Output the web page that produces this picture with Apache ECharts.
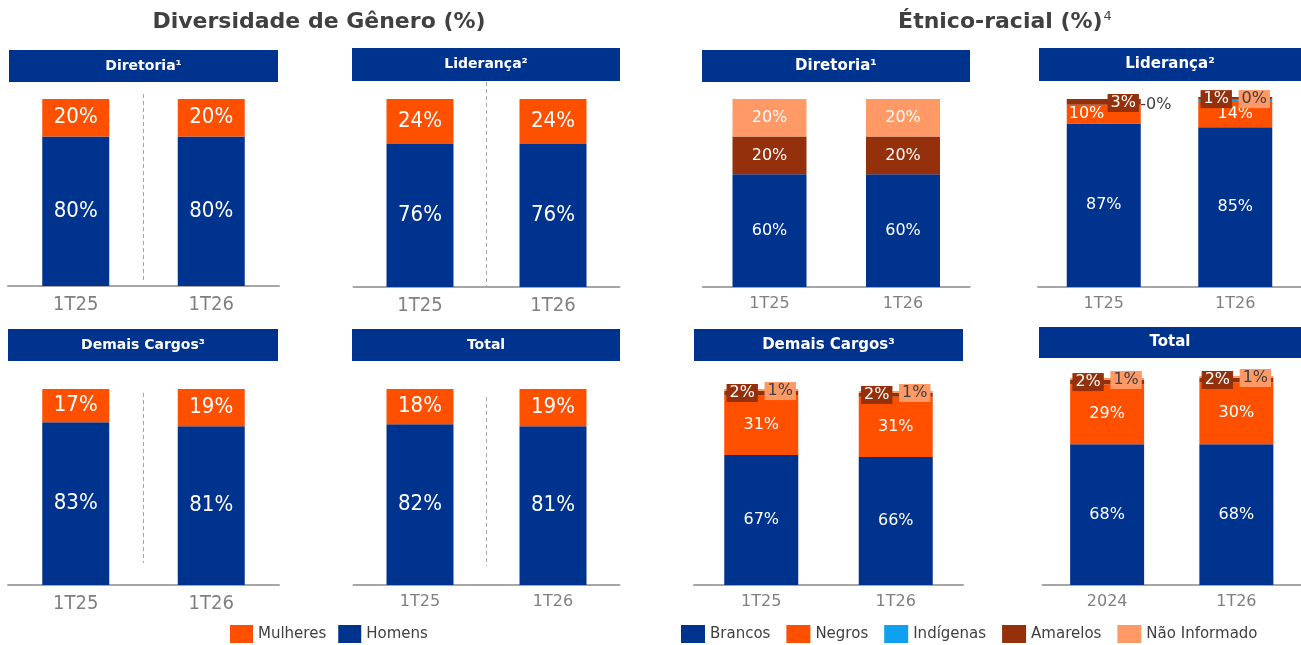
<!DOCTYPE html>
<html>
<head>
<meta charset="utf-8">
<script src="https://cdn.jsdelivr.net/npm/echarts@6/dist/echarts.min.js"></script>
<style>
  html, body { margin: 0; padding: 0; background: #fff; }
  #chart { width: 1301px; height: 645px; }
</style>
</head>
<body>
<div id="chart"></div>
<script>
// categorias
const periodos = ['1T25', '1T26']
const periodosTotal = ['2024', '1T26']

// Diversidade de Gênero (%)
const genDiretoriaHomens = [80, 80]
const genDiretoriaMulheres = [20, 20]
const genLiderancaHomens = [76, 76]
const genLiderancaMulheres = [24, 24]
const genDemaisHomens = [83, 81]
const genDemaisMulheres = [17, 19]
const genTotalHomens = [82, 81]
const genTotalMulheres = [18, 19]

// Étnico-racial (%)
const etnDiretoriaBrancos = [60, 60]
const etnDiretoriaNegros = [0, 0]
const etnDiretoriaIndigenas = [0, 0]
const etnDiretoriaAmarelos = [20, 20]
const etnDiretoriaNaoInf = [20, 20]

const etnLiderancaBrancos = [87, 85]
const etnLiderancaNegros = [10, 14]
const etnLiderancaIndigenas = [0, 1]
const etnLiderancaAmarelos = [3, 1]
const etnLiderancaNaoInf = [0, 0]

const etnDemaisBrancos = [67, 66]
const etnDemaisNegros = [31, 31]
const etnDemaisIndigenas = [0, 0]
const etnDemaisAmarelos = [2, 2]
const etnDemaisNaoInf = [1, 1]

const etnTotalBrancos = [68, 68]
const etnTotalNegros = [29, 30]
const etnTotalIndigenas = [0, 0]
const etnTotalAmarelos = [2, 2]
const etnTotalNaoInf = [1, 1]

const CORES = {
  navy: '#00338D',
  laranja: '#FF5000',
  azulClaro: '#0FA0F0',
  marrom: '#95300C',
  salmao: '#FF9966',
  texto: '#404040',
  eixo: '#A6A6A6',
  rotulo: '#7F7F7F'
}
const FONTE = "'DejaVu Sans', sans-serif"
const FONTE_COND = "'DejaVu Sans Condensed', 'Liberation Sans Narrow', 'DejaVu Sans', sans-serif"

// layout de cada painel (pixels)
const paineis = [
  { left: 8, width: 271, base: 286, h100: 187, cab: [9, 50, 269, 32], titulo: 'Diretoria¹', fs: 14, sep: [94, 282], cats: periodos, eixoFonte: 20, eixoCond: true },
  { left: 353.5, width: 266, base: 287, h100: 188, cab: [352, 48, 268, 33], titulo: 'Liderança²', fs: 14, sep: [82, 287], cats: periodos, eixoFonte: 20, eixoCond: true },
  { left: 8, width: 271, base: 585, h100: 196, cab: [8, 329, 270, 32], titulo: 'Demais Cargos³', fs: 14, sep: [393, 563], cats: periodos, eixoFonte: 20, eixoCond: true },
  { left: 353.5, width: 266, base: 585, h100: 196, cab: [352, 329, 268, 32], titulo: 'Total', fs: 14, sep: [397, 566], cats: periodos, eixoFonte: 16 },
  { left: 702.75, width: 267, base: 287, h100: 188, cab: [702, 50, 268, 32], titulo: 'Diretoria¹', fs: 15, cats: periodos, eixoFonte: 16 },
  { left: 1038, width: 269, base: 287, h100: 188, cab: [1039, 48, 262, 33], titulo: 'Liderança²', fs: 15, cats: periodos, eixoFonte: 16 },
  { left: 694, width: 269, base: 585, h100: 194, cab: [694, 329, 269, 32], titulo: 'Demais Cargos³', fs: 15, cats: periodos, eixoFonte: 16 },
  { left: 1042.5, width: 264, base: 585, h100: 207, cab: [1039, 327, 262, 31], titulo: 'Total', fs: 15, cats: periodosTotal, eixoFonte: 16 }
]

// ajustes manuais de rótulos pequenos (painel, série, índice)
const ajustesRotulo = {
  '5-Negros-0': { position: 'insideLeft', distance: 2 },
  '5-Amarelos-0': { offset: [19.5, 13] },
  '5-Não Informado-0': { formatter: '-0%', backgroundColor: 'transparent', offset: [52, 14], padding: 0 }
}

function serieGenero(grid, nome, valores, cor) {
  return {
    name: nome, type: 'bar', stack: 'p' + grid, xAxisIndex: grid, yAxisIndex: grid,
    barWidth: 67, clip: false, data: valores,
    itemStyle: { color: cor },
    label: { show: true, position: 'inside', formatter: '{c}%', color: '#fff', fontSize: 22, fontFamily: FONTE_COND }
  }
}

function rotuloEtnico(grid, nome, v, k) {
  if (nome === 'Indígenas') return { show: false }
  let r
  if (v >= 5) {
    r = { show: true }
  } else if (nome === 'Amarelos' || nome === 'Não Informado') {
    const amarelo = nome === 'Amarelos'
    r = {
      show: true, position: 'top', distance: 0,
      offset: [amarelo ? -19 : 19, 11],
      backgroundColor: amarelo ? CORES.marrom : CORES.salmao,
      color: amarelo ? '#fff' : CORES.texto,
      padding: [1, 3], lineHeight: 16, fontSize: 16
    }
  } else {
    r = { show: false }
  }
  const aj = ajustesRotulo[grid + '-' + nome + '-' + k]
  return aj ? Object.assign(r, aj) : r
}

function serieEtnica(grid, nome, valores, cor) {
  return {
    name: nome, type: 'bar', stack: 'p' + grid, xAxisIndex: grid, yAxisIndex: grid,
    barWidth: 74, clip: false,
    itemStyle: { color: cor },
    label: { position: 'inside', formatter: '{c}%', color: '#fff', fontSize: 16, fontFamily: FONTE },
    data: valores.map((v, k) => ({ value: v, label: rotuloEtnico(grid, nome, v, k) }))
  }
}

function seriesEtnicas(grid, b, n, i, a, ni) {
  return [
    serieEtnica(grid, 'Brancos', b, CORES.navy),
    serieEtnica(grid, 'Negros', n, CORES.laranja),
    serieEtnica(grid, 'Indígenas', i, CORES.azulClaro),
    serieEtnica(grid, 'Amarelos', a, CORES.marrom),
    serieEtnica(grid, 'Não Informado', ni, CORES.salmao)
  ]
}

const series = [
  serieGenero(0, 'Homens', genDiretoriaHomens, CORES.navy),
  serieGenero(0, 'Mulheres', genDiretoriaMulheres, CORES.laranja),
  serieGenero(1, 'Homens', genLiderancaHomens, CORES.navy),
  serieGenero(1, 'Mulheres', genLiderancaMulheres, CORES.laranja),
  serieGenero(2, 'Homens', genDemaisHomens, CORES.navy),
  serieGenero(2, 'Mulheres', genDemaisMulheres, CORES.laranja),
  serieGenero(3, 'Homens', genTotalHomens, CORES.navy),
  serieGenero(3, 'Mulheres', genTotalMulheres, CORES.laranja),
  ...seriesEtnicas(4, etnDiretoriaBrancos, etnDiretoriaNegros, etnDiretoriaIndigenas, etnDiretoriaAmarelos, etnDiretoriaNaoInf),
  ...seriesEtnicas(5, etnLiderancaBrancos, etnLiderancaNegros, etnLiderancaIndigenas, etnLiderancaAmarelos, etnLiderancaNaoInf),
  ...seriesEtnicas(6, etnDemaisBrancos, etnDemaisNegros, etnDemaisIndigenas, etnDemaisAmarelos, etnDemaisNaoInf),
  ...seriesEtnicas(7, etnTotalBrancos, etnTotalNegros, etnTotalIndigenas, etnTotalAmarelos, etnTotalNaoInf)
]

const grids = paineis.map(p => ({ left: p.left, width: p.width, top: p.base - p.h100, height: p.h100 }))
const xAxes = paineis.map((p, g) => ({
  type: 'category', gridIndex: g, data: p.cats,
  axisLine: { lineStyle: { color: CORES.eixo, width: 2 } },
  axisTick: { show: false },
  axisLabel: { color: CORES.rotulo, fontSize: p.eixoFonte, fontFamily: p.eixoCond ? FONTE_COND : FONTE, margin: 9 }
}))
const yAxes = paineis.map((p, g) => ({ type: 'value', gridIndex: g, min: 0, max: 100, show: false }))

// cabeçalhos, separadores e títulos
const graficos = []
paineis.forEach(p => {
  const [x, y, w, h] = p.cab
  graficos.push({ type: 'rect', shape: { x, y, width: w, height: h }, style: { fill: CORES.navy } })
  graficos.push({
    type: 'text', x: x + w / 2, y: y + h / 2,
    style: { text: p.titulo, fill: '#fff', font: 'bold ' + p.fs + 'px ' + FONTE, align: 'center', verticalAlign: 'middle' }
  })
  if (p.sep) {
    const xm = p.left + p.width / 2
    graficos.push({
      type: 'line', shape: { x1: xm, y1: p.sep[0], x2: xm, y2: p.sep[1] },
      style: { stroke: CORES.eixo, lineWidth: 1, lineDash: [4, 3] }
    })
  }
})
graficos.push({
  type: 'text', x: 319, y: 22,
  style: { text: 'Diversidade de Gênero (%)', fill: CORES.texto, font: 'bold 22px ' + FONTE, align: 'center', verticalAlign: 'middle' }
})
graficos.push({
  type: 'text', x: 1005, y: 22,
  style: {
    text: '{t|Étnico-racial (%)}{s|4}', align: 'center', verticalAlign: 'middle',
    rich: {
      t: { fill: CORES.texto, font: 'bold 22px ' + FONTE },
      s: { fill: CORES.texto, fontSize: 13, fontFamily: FONTE, padding: [0, 0, 11, 1] }
    }
  }
})

const chart = echarts.init(document.getElementById('chart'))
chart.setOption({
  animation: false,
  grid: grids,
  xAxis: xAxes,
  yAxis: yAxes,
  legend: [
    {
      data: ['Mulheres', 'Homens'], left: 230, top: 625, padding: 0, icon: 'rect',
      itemWidth: 23, itemHeight: 18, itemGap: 12, selectedMode: false,
      textStyle: { fontSize: 15, color: CORES.texto, fontFamily: FONTE }
    },
    {
      data: ['Brancos', 'Negros', 'Indígenas', 'Amarelos', 'Não Informado'], left: 681, top: 625, padding: 0, icon: 'rect',
      itemWidth: 24, itemHeight: 18, itemGap: 16, selectedMode: false,
      textStyle: { fontSize: 15, color: CORES.texto, fontFamily: FONTE }
    }
  ],
  graphic: graficos,
  series: series
})

window.addEventListener('resize', () => chart.resize())
</script>
</body>
</html>
